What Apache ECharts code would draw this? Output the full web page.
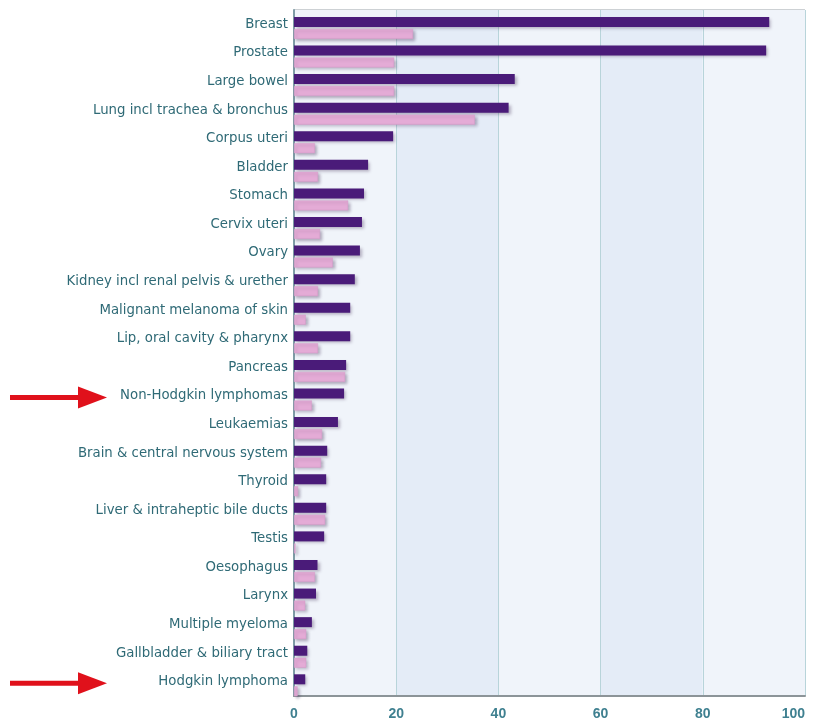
<!DOCTYPE html>
<html>
<head>
<meta charset="utf-8">
<script src="https://cdn.jsdelivr.net/npm/echarts@6/dist/echarts.min.js"></script>
<style>
  html, body { margin: 0; padding: 0; background: #fff; }
  #main { width: 819px; height: 721px; }
</style>
</head>
<body>
<div id="main"></div>
<script>
// categories, top to bottom
const cancers = [
  "Breast", "Prostate", "Large bowel", "Lung incl trachea & bronchus",
  "Corpus uteri", "Bladder", "Stomach", "Cervix uteri", "Ovary",
  "Kidney incl renal pelvis & urether", "Malignant melanoma of skin",
  "Lip, oral cavity & pharynx", "Pancreas", "Non-Hodgkin lymphomas",
  "Leukaemias", "Brain & central nervous system", "Thyroid",
  "Liver & intraheptic bile ducts", "Testis", "Oesophagus", "Larynx",
  "Multiple myeloma", "Gallbladder & biliary tract", "Hodgkin lymphoma"
];
// dark bars
const darkValues = [93, 92.4, 43.2, 42, 19.4, 14.5, 13.7, 13.3, 12.9, 11.9, 11, 11,
  10.2, 9.8, 8.6, 6.5, 6.3, 6.3, 5.9, 4.6, 4.3, 3.5, 2.6, 2.2];
// light bars
const lightValues = [23.3, 19.6, 19.6, 35.4, 4.1, 4.7, 10.6, 5.1, 7.6, 4.7, 2.3, 4.7,
  10, 3.5, 5.5, 5.3, 0.8, 6.1, 0.3, 4.1, 2.2, 2.4, 2.4, 0.7];
const xTicks = [0, 20, 40, 60, 80, 100];
// which labels get the red arrows
const marked = ["Non-Hodgkin lymphomas", "Hodgkin lymphoma"];

let myChart = echarts.init(document.getElementById("main"));

const barShadow = {
  shadowColor: "rgba(60,40,80,0.35)",
  shadowBlur: 3,
  shadowOffsetX: 2,
  shadowOffsetY: 2
};

myChart.setOption({
  animation: false,
  grid: {
    left: 294, right: 14, top: 10, bottom: 22,
    show: true,
    borderColor: "#9aa3a8",
    borderWidth: 1
  },
  xAxis: {
    type: "value",
    min: 0, max: 100, interval: 20,
    axisLine: { show: true, lineStyle: { color: "#8c9498", width: 2 } },
    axisTick: { show: false },
    axisLabel: {
      color: "#3f8090", fontSize: 14, fontWeight: "bold", fontFamily: "Liberation Sans",
      margin: 11,
      alignMaxLabel: "right",
      formatter: (v) => (xTicks.includes(v) ? String(v) : "")
    },
    splitLine: { show: true, lineStyle: { color: "#b8d4da", width: 1 } },
    splitArea: { show: true, areaStyle: { color: ["#f0f4fa", "#e4ecf7"] } }
  },
  yAxis: {
    type: "category",
    data: cancers,
    inverse: true,
    axisLine: { show: true, lineStyle: { color: "#7f9ca6", width: 2 } },
    axisTick: { show: false },
    axisLabel: {
      color: "#2f6a76", fontSize: 13.3, fontFamily: "DejaVu Sans", margin: 6,
      padding: [0, 0, 4, 0]
    }
  },
  series: [
    {
      // empty slot so the pair of bars sits a little below the label line
      name: "spacer",
      type: "bar",
      data: cancers.map(() => 0),
      barWidth: 6,
      barGap: "20%",
      silent: true,
      itemStyle: { color: "transparent" }
    },
    {
      name: "dark",
      type: "bar",
      data: darkValues,
      barWidth: 10,
      barGap: "20%",
      itemStyle: Object.assign({ color: "#4a1b79" }, barShadow)
    },
    {
      name: "light",
      type: "bar",
      data: lightValues,
      barWidth: 10,
      barGap: "20%",
      itemStyle: Object.assign({ color: "#e4abd6", borderColor: "#d69ac8", borderWidth: 0.5 }, barShadow)
    }
  ]
});

// red arrows pointing at the two lymphoma labels
let arrows = [];
marked.forEach((name) => {
  let y = myChart.convertToPixel({ yAxisIndex: 0 }, name) + 1.5;
  arrows.push({
    type: "line",
    shape: { x1: 10, y1: y, x2: 82, y2: y },
    style: { stroke: "#e0111b", lineWidth: 5 }
  });
  arrows.push({
    type: "polygon",
    shape: { points: [[78, y - 11], [107, y], [78, y + 11]] },
    style: { fill: "#e0111b" }
  });
});
myChart.setOption({ graphic: arrows });
</script>
</body>
</html>
